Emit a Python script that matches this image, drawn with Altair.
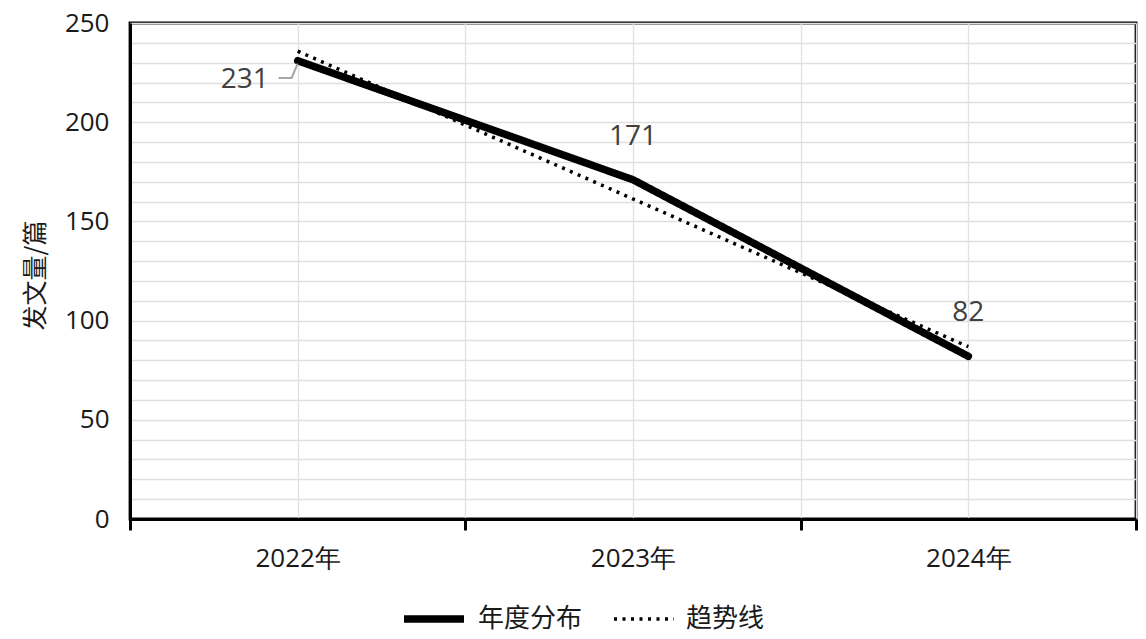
import altair as alt
import pandas as pd

years = ["2022年", "2023年", "2024年"]
counts = [231, 171, 82]
series_names = ["年度分布", "趋势线"]
y_ticks = list(range(0, 251, 10))

# leader line from label "231" to its point (data units)
leader_x = [0.943, 0.982, 1.0]
leader_y = [222.3, 222.3, 229.5]

df = pd.DataFrame({"idx": [i + 1 for i in range(len(years))], "year": years, "count": counts})
df["series"] = series_names[0]
leader = pd.DataFrame({"x": leader_x, "y": leader_y})

FONT = "Open Sans"
CJK = "Noto Sans CJK SC"
label_array = "[" + ",".join("'" + y + "'" for y in years) + "]"

xscale = alt.Scale(domain=[0.5, len(years) + 0.5], nice=False, zero=False)
yscale = alt.Scale(domain=[0, 250], nice=False)

x_vals = [i * 0.5 + 0.5 for i in range(2 * len(years) + 1)]

x_axis = alt.Axis(
    values=x_vals,
    labelExpr=f"datum.value % 1 == 0 ? {label_array}[datum.value - 1] : ''",
    title=None,
    grid=True,
    gridColor="#e0e0e0",
    gridWidth=1.3,
    domainColor="black",
    domainWidth=3,
    tickColor={"condition": {"test": "datum.value % 1 == 0", "value": "transparent"}, "value": "black"},
    tickWidth=3,
    tickSize=11,
    labelPadding=15,
    labelFontSize=26,
    labelFont=FONT,
    labelColor="#1a1a1a",
    labelAngle=0,
)

y_axis = alt.Axis(
    values=y_ticks,
    labelExpr="datum.value % 50 == 0 ? datum.label : ''",
    title="发文量/篇",
    titleFont=CJK,
    titleFontSize=25,
    titleFontWeight="normal",
    titleColor="#1a1a1a",
    titleAngle=-90,
    titleX=-95,
    titleY=252,
    titleAlign="center",
    titleBaseline="middle",
    grid=True,
    gridColor="#e0e0e0",
    gridWidth=1.3,
    domainColor="black",
    domainWidth=3,
    ticks=False,
    labelPadding=21,
    labelFontSize=26,
    labelFont=FONT,
    labelColor="#1a1a1a",
)

legend = alt.Legend(
    title=None,
    orient="none",
    legendX=270,
    legendY=562,
    direction="horizontal",
    labelFont=CJK,
    labelFontSize=26,
    labelColor="#1a1a1a",
    symbolType="stroke",
    symbolSize=3600,
    symbolStrokeColor="black",
    labelOffset=10,
    columnPadding=24,
)

def X(field):
    return alt.X(field, scale=xscale, axis=x_axis)

def Y(field):
    return alt.Y(field, scale=yscale, axis=y_axis)

dash = alt.StrokeDash(
    "series:N",
    scale=alt.Scale(domain=series_names, range=[[1, 0], [3, 5.5]]),
    legend=legend,
)
swidth = alt.StrokeWidth(
    "series:N",
    scale=alt.Scale(domain=series_names, range=[7.5, 3.5]),
    legend=legend,
)

base = alt.Chart(df)

main_line = base.mark_line(color="black", strokeJoin="round", strokeCap="round").encode(
    x=X("idx:Q"),
    y=Y("count:Q"),
    strokeDash=dash,
    strokeWidth=swidth,
)

trend = (
    base.transform_regression("idx", "count", method="linear", extent=[1, len(years)])
    .transform_calculate(series=f"'{series_names[1]}'")
    .mark_line(color="black")
    .encode(
        x=X("idx:Q"),
        y=Y("count:Q"),
        strokeDash=dash,
        strokeWidth=swidth,
    )
)

text_style = dict(font=FONT, fontSize=28, color="#404040", align="center", baseline="middle")

lbl_first = base.transform_filter(alt.datum.idx == 1).mark_text(dx=-53, dy=19, **text_style).encode(
    x=X("idx:Q"),
    y=Y("count:Q"),
    text="count:Q",
)
lbl_rest = base.transform_filter(alt.datum.idx > 1).mark_text(dy=-43, **text_style).encode(
    x=X("idx:Q"),
    y=Y("count:Q"),
    text="count:Q",
)

leader_line = alt.Chart(leader).mark_line(color="#a6a6a6", strokeWidth=2).encode(
    x=X("x:Q"),
    y=Y("y:Q"),
)

chart = (
    alt.layer(main_line, trend, leader_line, lbl_first, lbl_rest)
    .properties(
        width=1006,
        height=496,
        autosize=alt.AutoSizeParams(type="none"),
        padding={"left": 122, "top": 15, "right": 2, "bottom": 112},
        background="white",
    )
    .configure_view(stroke="black", strokeWidth=2.8)
)

chart.save("out.html", embed_options={"renderer": "svg", "actions": False})
